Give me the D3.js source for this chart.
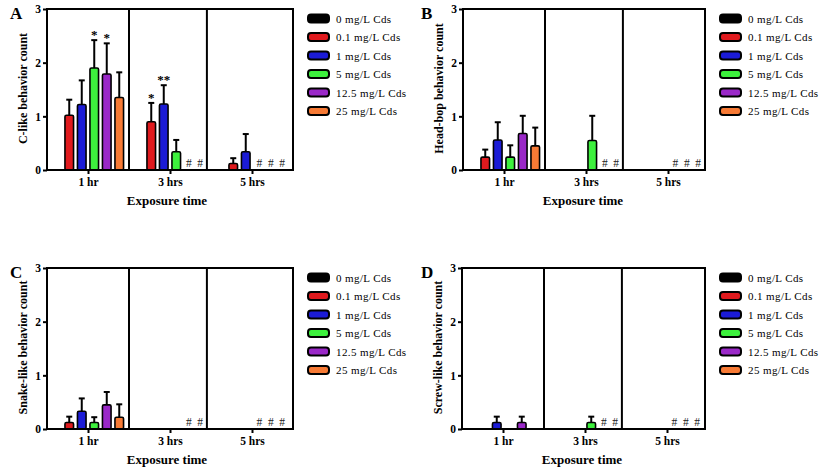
<!DOCTYPE html>
<html>
<head>
<meta charset="utf-8">
<script src="https://cdn.jsdelivr.net/npm/d3@7"></script>
<style>
  html, body { margin: 0; padding: 0; background: #fff; }
  svg { display: block; }
  text { font-family: "Liberation Serif", "Times New Roman", serif; }
</style>
</head>
<body>
<svg id="chart" width="827" height="469"></svg>
<script>
// ---------------- DATA ----------------
const groups = ["1 hr", "3 hrs", "5 hrs"];
const doses = ["0 mg/L Cds", "0.1 mg/L Cds", "1 mg/L Cds", "5 mg/L Cds", "12.5 mg/L Cds", "25 mg/L Cds"];
const yTicks = [0, 1, 2, 3];

// mean values [group][dose]; null = no bar (marked with #)
const cLikeMean = [[0, 1.02, 1.22, 1.90, 1.79, 1.35], [0, 0.90, 1.23, 0.34, null, null], [0, 0.12, 0.34, null, null, null]];
const cLikeErr  = [[0, 0.29, 0.45, 0.52, 0.57, 0.47], [0, 0.35, 0.35, 0.22, null, null], [0, 0.10, 0.33, null, null, null]];
const headBopMean = [[0, 0.24, 0.56, 0.24, 0.68, 0.45], [0, 0, 0, 0.55, null, null], [0, 0, 0, null, null, null]];
const headBopErr  = [[0, 0.14, 0.33, 0.22, 0.33, 0.34], [0, 0, 0, 0.46, null, null], [0, 0, 0, null, null, null]];
const snakeMean = [[0, 0.12, 0.33, 0.12, 0.45, 0.22], [0, 0, 0, 0, null, null], [0, 0, 0, null, null, null]];
const snakeErr  = [[0, 0.11, 0.24, 0.10, 0.24, 0.24], [0, 0, 0, 0, null, null], [0, 0, 0, null, null, null]];
const screwMean = [[0, 0, 0.12, 0, 0.12, 0], [0, 0, 0, 0.12, null, null], [0, 0, 0, null, null, null]];
const screwErr  = [[0, 0, 0.11, 0, 0.11, 0], [0, 0, 0, 0.11, null, null], [0, 0, 0, null, null, null]];

// significance stars in panel A: [group, dose, text]
const cLikeStars = [[0, 3, "*"], [0, 4, "*"], [1, 1, "*"], [1, 2, "**"]];

const yLabels = ["C-like behavior count", "Head-bop behavior count", "Snake-like behavior count", "Screw-like behavior count"];
const panelLetters = ["A", "B", "C", "D"];
const xTitle = "Exposure time";

// ---------------- STYLE / LAYOUT ----------------
const colors = ["#000000", "#e01a1e", "#1b1bd6", "#3df03d", "#9a28c8", "#f77a35"];
const layout = [
  { left: 47,  right: 293, top: 9 },
  { left: 463, right: 705, top: 9 },
  { left: 47,  right: 293, top: 268 },
  { left: 462, right: 705, top: 268 }
];
const plotH = 161;
const groupStep = 82;
const slot = 12.5;
const barW = 8.6;
const dividerPos = [0.5, 1.45];

const panelMeans = [cLikeMean, headBopMean, snakeMean, screwMean];
const panelErrs = [cLikeErr, headBopErr, snakeErr, screwErr];
const panelStars = [cLikeStars, [], [], []];

const svg = d3.select("#chart");

panelMeans.forEach((means, p) => {
  const L = layout[p];
  const g = svg.append("g");
  const y = d3.scaleLinear().domain([0, 3]).range([L.top + plotH, L.top]);
  const x = d3.scaleLinear().domain([0, 2]).range([L.left + groupStep / 2, L.left + groupStep / 2 + 2 * groupStep]);
  const slotX = d3.scaleLinear().domain([0, doses.length - 1]).range([-2.5 * slot, 2.5 * slot]);
  const bottom = y(0);

  const bars = [];
  means.forEach((row, gi) => row.forEach((v, di) => {
    bars.push({ gi, di, v, e: panelErrs[p][gi][di] });
  }));

  // error bars (upper only)
  bars.filter(d => d.v !== null && d.v > 0 && d.e > 0).forEach(d => {
    const cx = x(d.gi) + slotX(d.di);
    g.append("line").attr("x1", cx).attr("x2", cx)
      .attr("y1", y(d.v)).attr("y2", y(d.v + d.e))
      .attr("stroke", "#000").attr("stroke-width", 2);
    g.append("line").attr("x1", cx - 3).attr("x2", cx + 3)
      .attr("y1", y(d.v + d.e)).attr("y2", y(d.v + d.e))
      .attr("stroke", "#000").attr("stroke-width", 2);
  });

  g.selectAll("rect.bar").data(bars.filter(d => d.v !== null && d.v > 0)).join("rect")
    .attr("class", "bar")
    .attr("x", d => x(d.gi) + slotX(d.di) - barW / 2)
    .attr("y", d => y(d.v))
    .attr("width", barW)
    .attr("height", d => bottom - y(d.v))
    .attr("rx", 1.5)
    .attr("fill", d => colors[d.di])
    .attr("stroke", "#000")
    .attr("stroke-width", 1.6);

  // hash marks where no data
  g.selectAll("text.hash").data(bars.filter(d => d.v === null)).join("text")
    .attr("class", "hash")
    .attr("x", d => x(d.gi) + slotX(d.di) - (d.di - 4) * 1.2)
    .attr("y", bottom - 3)
    .attr("text-anchor", "middle")
    .attr("font-size", 11.5)
    .attr("fill", "#222")
    .text("#");

  // stars
  panelStars[p].forEach(([gi, di, t]) => {
    const v = means[gi][di] + panelErrs[p][gi][di];
    g.append("text")
      .attr("x", x(gi) + slotX(di))
      .attr("y", y(v) - 1)
      .attr("text-anchor", "middle")
      .attr("font-size", 13)
      .attr("font-weight", "bold")
      .text(t);
  });

  // box + dividers
  g.append("rect").attr("x", L.left).attr("y", L.top)
    .attr("width", L.right - L.left).attr("height", plotH)
    .attr("fill", "none").attr("stroke", "#000").attr("stroke-width", 2);
  dividerPos.forEach(dv => {
    g.append("line").attr("x1", x(dv)).attr("x2", x(dv))
      .attr("y1", L.top).attr("y2", bottom)
      .attr("stroke", "#000").attr("stroke-width", 2);
  });

  // y axis
  const ya = g.append("g").attr("transform", `translate(${L.left},0)`)
    .call(d3.axisLeft(y).tickValues(yTicks).tickSize(4).tickPadding(2).tickFormat(d3.format("d")));
  ya.select(".domain").remove();
  ya.selectAll("line").attr("stroke-width", 2);
  ya.selectAll("text").attr("font-size", 11.5).attr("font-weight", "bold")
    .style("font-family", '"Liberation Serif", "Times New Roman", serif');

  // x axis
  const xa = g.append("g").attr("transform", `translate(0,${bottom})`)
    .call(d3.axisBottom(x).tickValues([0, 1, 2]).tickSize(4).tickPadding(4).tickFormat(i => groups[i]));
  xa.select(".domain").remove();
  xa.selectAll("line").attr("stroke-width", 2);
  xa.selectAll("text").attr("font-size", 11.5).attr("font-weight", "bold")
    .style("font-family", '"Liberation Serif", "Times New Roman", serif');

  // x title
  g.append("text").attr("x", x(1) - 3).attr("y", bottom + 35)
    .attr("text-anchor", "middle").attr("font-size", 13).attr("font-weight", "bold")
    .text(xTitle);

  // y title
  g.append("text")
    .attr("transform", `translate(${L.left - 20},${L.top + plotH / 2 - 1}) rotate(-90)`)
    .attr("text-anchor", "middle").attr("font-size", 12).attr("font-weight", "bold")
    .text(yLabels[p]);

  // panel letter
  g.append("text").attr("x", L.left < 200 ? 10 : 421).attr("y", L.top + 10)
    .attr("font-size", 17).attr("font-weight", "bold")
    .text(panelLetters[p]);

  // legend
  const lx = L.right + 15;
  const lg = g.append("g");
  doses.forEach((name, i) => {
    const cy = L.top + 9.5 + i * 18.5;
    lg.append("rect").attr("x", lx).attr("y", cy - 4).attr("width", 21).attr("height", 8)
      .attr("rx", 3).attr("fill", colors[i]).attr("stroke", "#000").attr("stroke-width", 2);
    lg.append("text").attr("x", lx + 28).attr("y", cy + 4)
      .attr("font-size", 11).attr("letter-spacing", 0.4)
      .text(name);
  });
});
</script>
</body>
</html>
